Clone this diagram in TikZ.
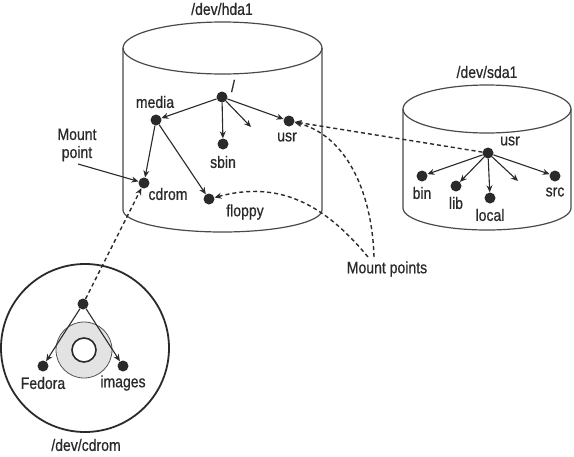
\documentclass[tikz,border=0pt]{standalone}
\usepackage{fontspec}
\setmainfont[FakeStretch=0.85,FakeBold=0.6]{Liberation Sans}
\usetikzlibrary{arrows.meta}
\definecolor{ink}{HTML}{2A2A2A}
\tikzset{
  dot/.style={circle,fill=ink,inner sep=0pt,minimum size=11pt},
  lbl/.style={inner sep=0pt,text=ink,font=\fontsize{16.5}{18}\selectfont},
  cyl/.style={draw=ink!85,line width=1.2pt},
  arr/.style={draw=ink,line width=1.1pt,-{Stealth[length=7pt,width=6pt]}},
  darr/.style={draw=ink,line width=1.4pt,dash pattern=on 4pt off 3pt,-{Stealth[length=7pt,width=6pt,open]}},
}
\begin{document}
\begin{tikzpicture}[x=1pt,y=-1pt]
\useasboundingbox (0,0) rectangle (574,456);
\fill[white] (0,0) rectangle (574,456);
% cylinder hda1
\draw[cyl] (222.5,48) ellipse [x radius=99.5, y radius=26];
\draw[cyl] (123,48) -- (123,210) arc[start angle=180,end angle=0,x radius=99.5,y radius=22] -- (322,48);
% cylinder sda1
\draw[cyl] (487,109) ellipse [x radius=84, y radius=24];
\draw[cyl] (403,109) -- (403,208) arc[start angle=180,end angle=0,x radius=84,y radius=22] -- (571,109);
\node[lbl] (thda) at (222,9) {/dev/hda1};
\node[lbl] (tsda) at (487,72) {/dev/sda1};
% hda1 tree
\node[dot] (root) at (222,97) {};
\node[lbl] (lroot) at (233,86) {/};
\node[dot] (media) at (156,120) {};
\node[lbl] (lmedia) at (155,102) {media};
\node[dot] (usra) at (289,121) {};
\node[lbl] (lusra) at (287,137) {usr};
\node[dot] (sbin) at (223,144) {};
\node[lbl] (lsbin) at (223,162) {sbin};
\node[dot] (cdrom) at (144,183) {};
\node[lbl] (lcdrom) at (168,194) {cdrom};
\node[dot] (floppy) at (209,199) {};
\node[lbl] (lfloppy) at (245,212) {floppy};
\coordinate (stuba) at (251,127);
\draw[arr] (root) -- (media);
\draw[arr] (root) -- (sbin);
\draw[arr] (root) -- (stuba);
\draw[arr] (root) -- (usra);
\draw[arr] (media) -- (cdrom);
\draw[arr] (media) -- (floppy);
% sda1 tree
\node[dot] (usrb) at (488,153) {};
\node[lbl] (lusrb) at (510,141) {usr};
\node[dot] (bin) at (422,176) {};
\node[lbl] (lbin) at (422,193) {bin};
\node[dot] (lib) at (456,186) {};
\node[lbl] (llib) at (456,203) {lib};
\node[dot] (local) at (490,198) {};
\node[lbl] (llocal) at (490,215) {local};
\node[dot] (src) at (555,176) {};
\node[lbl] (lsrc) at (555,192) {src};
\coordinate (stubb) at (518,181);
\draw[arr] (usrb) -- (bin);
\draw[arr] (usrb) -- (lib);
\draw[arr] (usrb) -- (local);
\draw[arr] (usrb) -- (stubb);
\draw[arr] (usrb) -- (src);
% CD
\draw[ink,line width=1.8pt] (85,348) circle[radius=84];
\draw[ink!80,line width=0.8pt,fill=black!11] (84,350) circle[radius=28];
\draw[ink,line width=1.6pt,fill=white] (84,350) circle[radius=12];
\node[dot] (cdtop) at (83,304) {};
\node[dot] (fedora) at (43,366) {};
\node[lbl] (lfedora) at (43,383) {Fedora};
\node[dot] (images) at (123,366) {};
\node[lbl] (limages) at (123,383) {images};
\node[lbl] (tcd) at (86,445) {/dev/cdrom};
\draw[arr] (cdtop) -- (fedora);
\draw[arr] (cdtop) -- (images);
% mount annotations
\node[lbl,align=center] (mp) at (77,145) {Mount\\point};
\coordinate (mpa) at (78,164);
\draw[arr] (mpa) -- (cdrom);
\node[lbl] (mps) at (387,269) {Mount points};
\coordinate (mpu) at (374,257);
\coordinate (mpf) at (368,257);
\draw[darr] (cdtop) -- (cdrom);
\draw[darr] (usrb) -- (usra);
\draw[darr] (mpu) .. controls (372,190) and (345,135) .. (usra);
\draw[darr] (mpf) .. controls (325,205) and (280,180) .. (floppy);
\end{tikzpicture}
\end{document}
